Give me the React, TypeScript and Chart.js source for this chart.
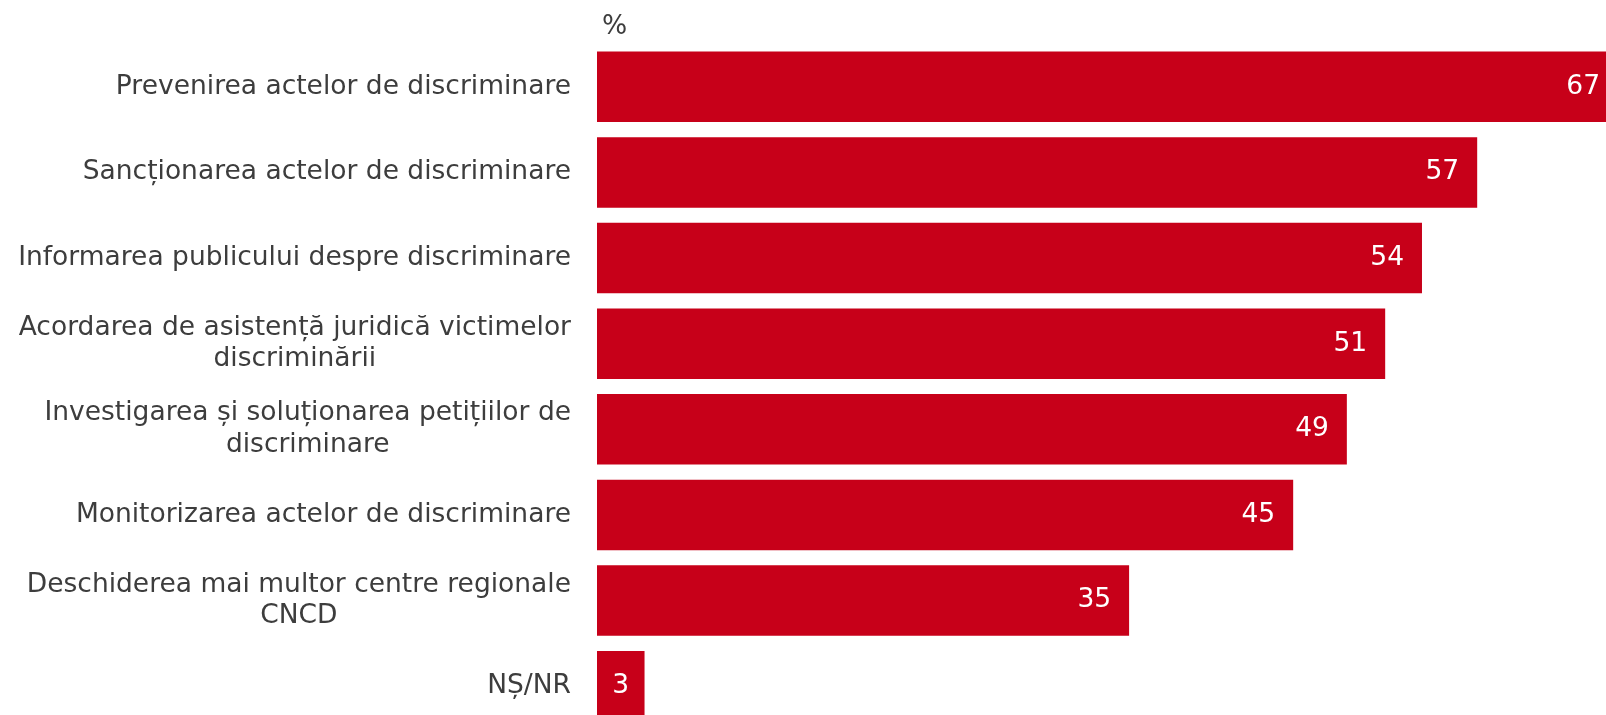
import React, { useEffect, useRef } from "react";
import { Chart, registerables } from "chart.js";

Chart.register(...registerables);

const categories: string[][] = [
  ["Prevenirea actelor de discriminare"],
  ["Sancționarea actelor de discriminare"],
  ["Informarea publicului despre discriminare"],
  ["Acordarea de asistență juridică victimelor", "discriminării"],
  ["Investigarea și soluționarea petițiilor de", "discriminare"],
  ["Monitorizarea actelor de discriminare"],
  ["Deschiderea mai multor centre regionale", "CNCD"],
  ["NȘ/NR"],
];
const values: number[] = [67.1, 57.4, 53.8, 51.4, 48.9, 45.4, 34.7, 3.1];
const valueLabels: string[] = ["67", "57", "54", "51", "49", "45", "35", "3"];
const unitLabel = "%";
const xMax = 67.3;

const BAR_COLOR = "#C70019";
const LABEL_COLOR = "#3d3d3d";
const FONT = 'Verdana, "DejaVu Sans", sans-serif';
const FONT_SIZE = 26.5;

const customText = {
  id: "customText",
  afterDatasetsDraw(chart: any) {
    const ctx = chart.ctx;
    const yScale = chart.scales.y;
    const area = chart.chartArea;
    const meta = chart.getDatasetMeta(0);
    ctx.save();
    ctx.font = `${FONT_SIZE}px ${FONT}`;
    ctx.fillStyle = LABEL_COLOR;
    ctx.textBaseline = "middle";
    ctx.textAlign = "center";
    const lh = 31.5;
    const blockRight = area.left - 26;
    categories.forEach((lines, i) => {
      const y = yScale.getPixelForValue(i);
      const w = Math.max(...lines.map((l) => ctx.measureText(l).width));
      const cx = blockRight - w / 2;
      const y0 = y - ((lines.length - 1) * lh) / 2;
      lines.forEach((l, j) => ctx.fillText(l, cx, y0 + j * lh));
    });
    ctx.fillStyle = "#ffffff";
    meta.data.forEach((bar: any, i: number) => {
      if (values[i] < 10) {
        ctx.textAlign = "center";
        ctx.fillText(valueLabels[i], (bar.x + bar.base) / 2, bar.y);
      } else {
        ctx.textAlign = "right";
        ctx.fillText(valueLabels[i], Math.min(bar.x - 18, 1592), bar.y);
      }
    });
    ctx.fillStyle = LABEL_COLOR;
    ctx.textAlign = "left";
    ctx.fillText(unitLabel, area.left + 5, 19);
    ctx.restore();
  },
};

export default function App() {
  const ref = useRef<HTMLCanvasElement | null>(null);
  useEffect(() => {
    const prevMargin = document.body.style.margin;
    document.body.style.margin = "0";
    if (!ref.current) return;
    const chart = new Chart(ref.current, {
      type: "bar",
      data: {
        labels: categories.map((c) => c.join(" ")),
        datasets: [
          {
            data: values,
            backgroundColor: BAR_COLOR,
            borderWidth: 0,
            barPercentage: 0.824,
            categoryPercentage: 1,
          },
        ],
      },
      options: {
        indexAxis: "y",
        animation: false,
        responsive: false,
        maintainAspectRatio: false,
        devicePixelRatio: 1,
        layout: { padding: { top: 36, left: 0, right: 0, bottom: 0 } },
        plugins: {
          legend: { display: false },
          tooltip: { enabled: false },
          title: { display: false },
        },
        scales: {
          x: { display: false, min: 0, max: xMax },
          y: {
            grid: { display: false },
            border: { display: false },
            ticks: { display: false },
            afterFit: (scale: any) => {
              scale.width = 589;
            },
          },
        },
      },
      plugins: [customText],
    });
    return () => {
      chart.destroy();
      document.body.style.margin = prevMargin;
    };
  }, []);
  return (
    <div style={{ position: "relative", width: 1606, height: 715, overflow: "hidden" }}>
      <canvas
        ref={ref}
        width={1621}
        height={721}
        style={{ position: "absolute", left: 8, top: 8, width: 1621, height: 721 }}
      />
    </div>
  );
}
